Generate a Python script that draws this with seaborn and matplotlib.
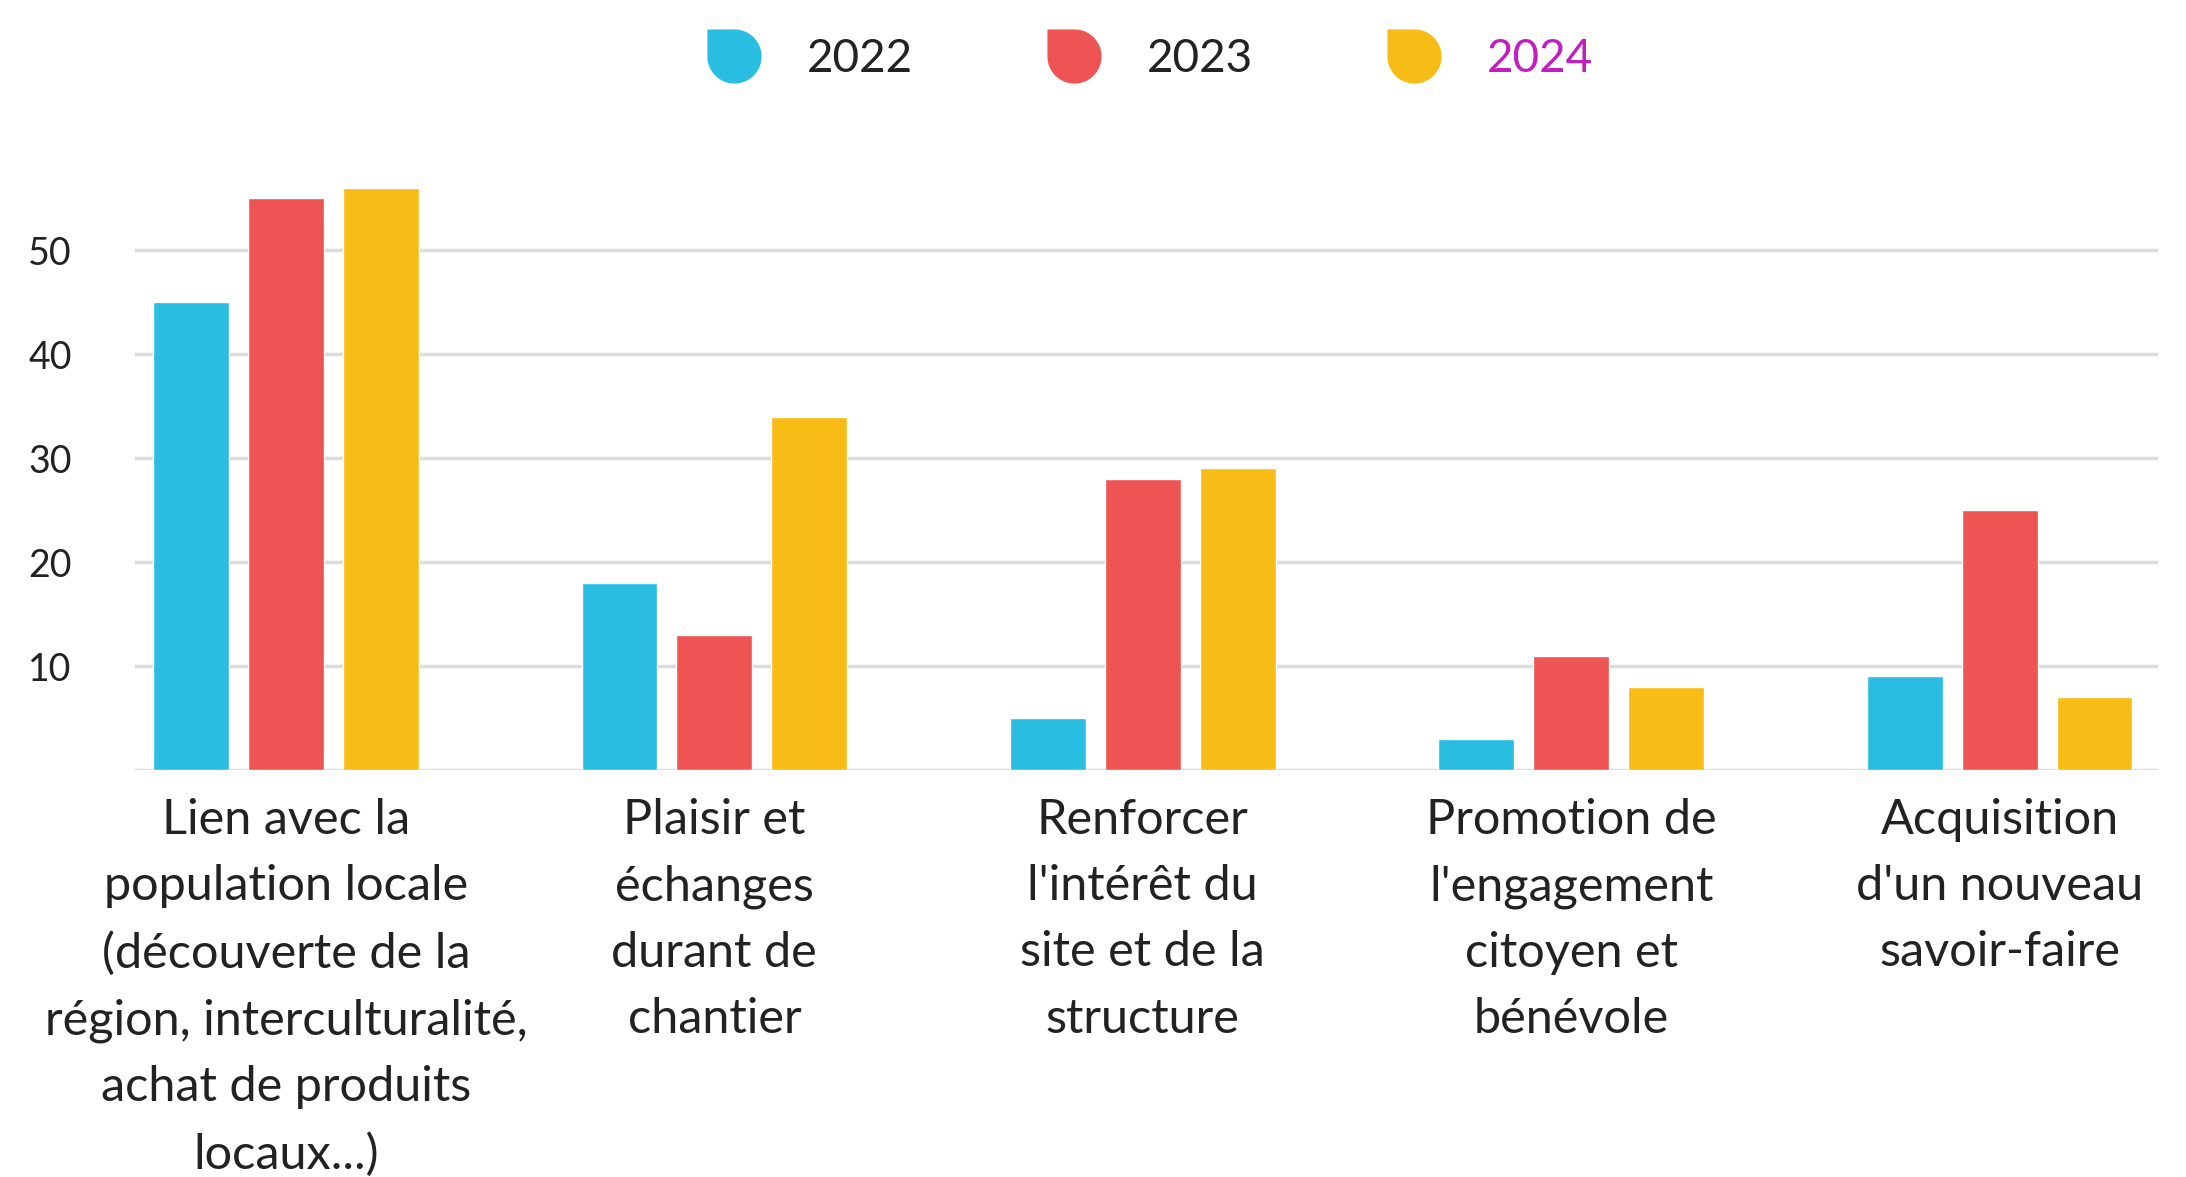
import numpy as np
import pandas as pd
import seaborn as sns
import matplotlib.pyplot as plt
from matplotlib.path import Path
from matplotlib.lines import Line2D

categories = [
    "Lien avec la\npopulation locale\n(découverte de la\nrégion, interculturalité,\nachat de produits\nlocaux...)",
    "Plaisir et\néchanges\ndurant de\nchantier",
    "Renforcer\nl'intérêt du\nsite et de la\nstructure",
    "Promotion de\nl'engagement\ncitoyen et\nbénévole",
    "Acquisition\nd'un nouveau\nsavoir-faire",
]
years = ["2022", "2023", "2024"]
v2022 = [45, 18, 5, 3, 9]
v2023 = [55, 13, 28, 11, 25]
v2024 = [56, 34, 29, 8, 7]
yticks = [10, 20, 30, 40, 50]
colors = ["#29BDE2", "#EF5455", "#F8BC17"]
legend_text_colors = ["#222222", "#222222", "#C21EBF"]

rows = []
for yr, vals in zip(years, [v2022, v2023, v2024]):
    for c, v in zip(categories, vals):
        rows.append({"cat": c, "year": yr, "value": v})
df = pd.DataFrame(rows)

sns.set_theme(style="white")
plt.rcParams['font.family'] = ['Lato', 'DejaVu Sans']

fig = plt.figure(figsize=(21.86, 11.77), dpi=100)
ax = fig.add_axes([0.0618, 0.3458, 0.9255, 0.53])

sns.barplot(data=df, x="cat", y="value", hue="year", palette=colors,
            width=0.664, gap=0.2, ax=ax, legend=False, saturation=1)

ax.set_xlim(-0.352, 4.37)
ax.set_ylim(0, 60)
ax.set_yticks([0] + yticks)
ax.set_yticklabels([""] + [str(t) for t in yticks])
ax.yaxis.grid(True, color="#dcdcdc", linewidth=2.5)
ax.set_axisbelow(True)
for s in ax.spines.values():
    s.set_visible(False)
ax.set_xlabel("")
ax.set_ylabel("")
ax.tick_params(axis="y", length=0, pad=77, labelsize=27, labelcolor="#222222")
ax.tick_params(axis="x", length=0, pad=20, labelsize=35, labelcolor="#222222")
for lbl in ax.get_yticklabels():
    lbl.set_horizontalalignment("left")
for lbl in ax.get_xticklabels():
    lbl.set_multialignment("center")
    lbl.set_linespacing(1.62)

# drop-shaped legend marker: circle with a square top-left corner
t = np.linspace(np.pi / 2, -np.pi, 60)
pts = [(0.5 * np.cos(a), 0.5 * np.sin(a)) for a in t]
pts += [(-0.5, 0.5), (0.0, 0.5)]
marker = Path(pts + [pts[0]],
              [Path.MOVETO] + [Path.LINETO] * (len(pts) - 1) + [Path.CLOSEPOLY])

handles = [Line2D([0], [0], linestyle="none", marker=marker, markersize=38,
                  markerfacecolor=c, markeredgecolor=c) for c in colors]
leg = fig.legend(handles, years, loc="center", bbox_to_anchor=(0.527, 0.950),
                 ncol=3, frameon=False, fontsize=33, handletextpad=1.1,
                 columnspacing=3.0, handlelength=1.0)
for txt, tc in zip(leg.get_texts(), legend_text_colors):
    txt.set_color(tc)

fig.savefig("out.png", dpi=100)
